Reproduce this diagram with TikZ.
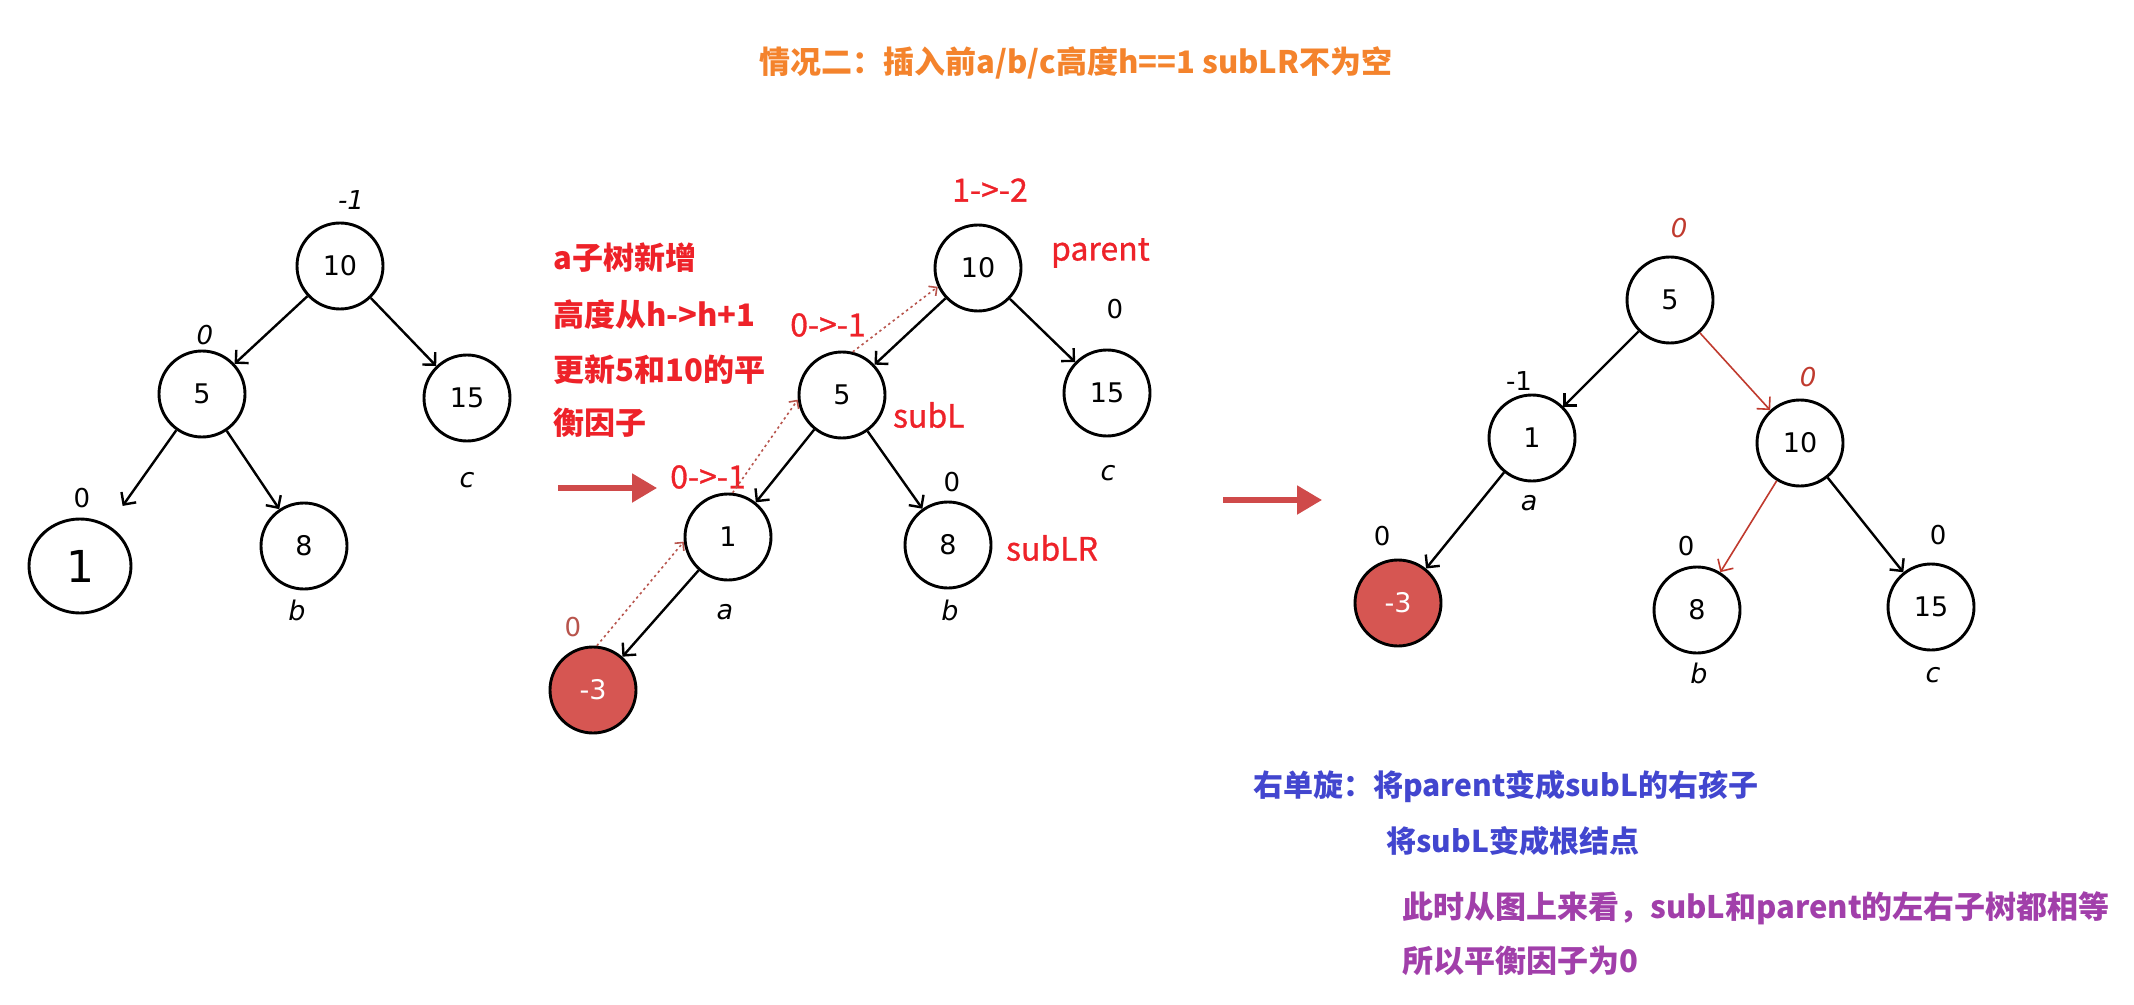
\documentclass[tikz,border=0pt]{standalone}
\usepackage{fontspec}
\usepackage{tikz}
\usetikzlibrary{arrows.meta,shapes.geometric}
\setmainfont{DejaVu Sans}
\newfontfamily\cjk{Noto Sans CJK SC}
\newfontfamily\cjkmed{Noto Sans CJK SC}[FakeBold=0.9]
\definecolor{avlorange}{HTML}{F4832C}
\definecolor{avlred}{HTML}{EE2229}
\definecolor{avlblue}{HTML}{4246CF}
\definecolor{avlpurple}{HTML}{A13FAA}
\definecolor{avlfill}{HTML}{D65652}
\definecolor{avldot}{HTML}{B8544C}
\definecolor{avledge}{HTML}{C03A2E}
\definecolor{avlarrow}{HTML}{CF4A4A}

\begin{document}
\begin{tikzpicture}[x=0.5pt, y=-0.5pt,
  tnode/.style={circle, draw=black, line width=1.45pt, minimum size=43pt, inner sep=0pt, font=\fontsize{13.5}{15}\selectfont},
  hotnode/.style={tnode, fill=avlfill, text=white},
  bal/.style={font=\fontsize{13}{15}\selectfont},
  balit/.style={font=\fontsize{13}{15}\selectfont\itshape},
  sublab/.style={font=\fontsize{13.5}{15}\selectfont\itshape},
  redlab/.style={text=avlred, font=\cjkmed\fontsize{16}{18}\selectfont},
  notelab/.style={anchor=west, inner sep=0pt, font=\cjk\bfseries\fontsize{15.5}{18}\selectfont},
  edge/.style={-{Straight Barb[length=4.5pt,width=9pt]}, line width=1.2pt},
  redge/.style={edge, draw=avledge, line width=0.8pt},
  dotarrow/.style={-{Straight Barb[length=3pt,width=6pt]}, draw=avldot, line width=0.8pt, dash pattern=on 1.2pt off 1.6pt},
  bigarrow/.style={-{Triangle[length=12.5pt,width=14pt]}, draw=avlarrow, line width=2.6pt}]
  \fill[white] (0,0) rectangle (2134,1005);
  \useasboundingbox (0,0) rectangle (2134,1005);

  \node[text=avlorange, font=\cjk\bfseries\fontsize{15.5}{18}\selectfont] (title) at (1076,63) {情况二：插入前a/b/c高度h==1 subLR不为空};

  \node[tnode] (t1p) at (340,266) {10};
  \node[tnode] (t1s) at (202,394) {5};
  \node[tnode] (t1c) at (467,398) {15};
  \node[tnode, ellipse, minimum width=51pt, minimum height=47pt, font=\fontsize{22}{24}\selectfont] (t1a) at (80,566) {1};
  \node[tnode] (t1b) at (304,546) {8};
  \node[balit] (t1pl) at (351,200) {-1};
  \node[balit] (t1sl) at (205,335) {0};
  \node[bal] (t1al) at (82,498) {0};
  \node[sublab] (t1bl) at (297,610) {b};
  \node[sublab] (t1cl) at (467,480) {c};
  \draw[edge] (t1p) -- (t1s);
  \draw[edge] (t1p) -- (t1c);
  \draw[edge, shorten >=12pt] (t1s) -- (t1a);
  \draw[edge] (t1s) -- (t1b);

  \node[notelab, text=avlred] (n1) at (553,258) {a子树新增};
  \node[notelab, text=avlred] (n2) at (553,315) {高度从h->h+1};
  \node[notelab, text=avlred] (n3) at (553,370) {更新5和10的平};
  \node[notelab, text=avlred] (n4) at (553,423) {衡因子};
  \coordinate (g1s) at (558,488);
  \coordinate (g1e) at (657,488);
  \draw[bigarrow] (g1s) -- (g1e);

  \node[tnode] (t2p) at (978,268) {10};
  \node[tnode] (t2s) at (842,395) {5};
  \node[tnode] (t2c) at (1107,393) {15};
  \node[tnode] (t2a) at (728,537) {1};
  \node[tnode] (t2b) at (948,545) {8};
  \node[hotnode] (t2n) at (593,690) {-3};
  \node[redlab] (t2pl) at (990,190) {1->-2};
  \node[redlab, anchor=west] (t2pn) at (1044,253) {parent};
  \node[redlab] (t2sl) at (828,325) {0->-1};
  \node[redlab, anchor=west] (t2sn) at (886,415) {subL};
  \node[redlab] (t2al) at (708,477) {0->-1};
  \node[redlab, anchor=west] (t2bn) at (999,548) {subLR};
  \node[bal] (t2cl) at (1115,309) {0};
  \node[bal] (t2bl) at (952,482) {0};
  \node[bal, text=avldot] (t2nl) at (573,627) {0};
  \node[sublab] (t2as) at (725,612) {a};
  \node[sublab] (t2bs) at (950,610) {b};
  \node[sublab] (t2cs) at (1108,473) {c};
  \draw[edge] (t2p) -- (t2s);
  \draw[edge] (t2p) -- (t2c);
  \draw[edge] (t2s) -- (t2a);
  \draw[edge] (t2s) -- (t2b);
  \draw[edge] (t2a) -- (t2n);
  \draw[dotarrow] (t2n.85) -- (t2a.186);
  \draw[dotarrow] (t2a.84) -- (t2s.186);
  \draw[dotarrow] (t2s.76) -- (t2p.205);

  \coordinate (g2s) at (1223,500);
  \coordinate (g2e) at (1322,500);
  \draw[bigarrow] (g2s) -- (g2e);

  \node[tnode] (t3s) at (1670,300) {5};
  \node[tnode] (t3a) at (1532,438) {1};
  \node[tnode] (t3p) at (1800,443) {10};
  \node[hotnode] (t3n) at (1398,603) {-3};
  \node[tnode] (t3b) at (1697,610) {8};
  \node[tnode] (t3c) at (1931,607) {15};
  \node[balit, text=avledge] (t3sl) at (1679,228) {0};
  \node[bal] (t3al) at (1519,381) {-1};
  \node[balit, text=avledge] (t3pl) at (1808,377) {0};
  \node[bal] (t3nl) at (1382,536) {0};
  \node[bal] (t3bl) at (1686,546) {0};
  \node[bal] (t3cl) at (1938,535) {0};
  \node[sublab] (t3as) at (1529,503) {a};
  \node[sublab] (t3bs) at (1699,673) {b};
  \node[sublab] (t3cs) at (1933,675) {c};
  \draw[edge] (t3s) -- (t3a);
  \draw[redge] (t3s) -- (t3p);
  \draw[edge] (t3a) -- (t3n);
  \draw[redge] (t3p) -- (t3b);
  \draw[edge] (t3p) -- (t3c);

  \node[notelab, text=avlblue, font=\cjk\bfseries\fontsize{15}{18}\selectfont] (r1) at (1253,787) {右单旋：将parent变成subL的右孩子};
  \node[notelab, text=avlblue, font=\cjk\bfseries\fontsize{15}{18}\selectfont] (r2) at (1386,841) {将subL变成根结点};
  \node[notelab, text=avlpurple] (r3) at (1402,908) {此时从图上来看，subL和parent的左右子树都相等};
  \node[notelab, text=avlpurple] (r4) at (1402,961) {所以平衡因子为0};
\end{tikzpicture}
\end{document}
